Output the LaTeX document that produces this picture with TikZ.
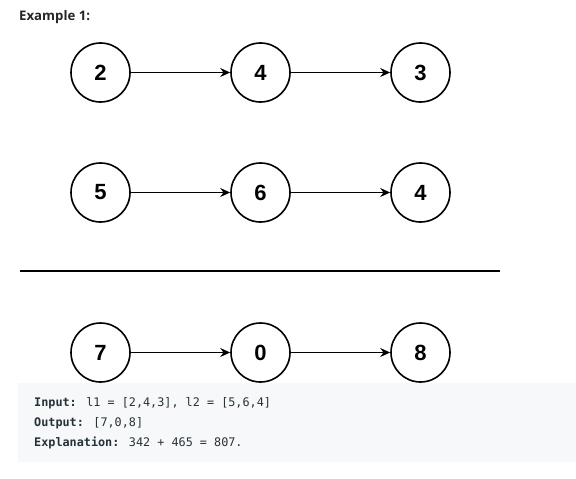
\documentclass[tikz,border=0pt]{standalone}
\usepackage{fontspec}
\setmainfont{Liberation Sans}
\newfontfamily\headfont{Open Sans}
\newfontfamily\codefont{DejaVu Sans Mono}
\usetikzlibrary{arrows.meta}
\definecolor{boxbg}{RGB}{246,248,250}
\definecolor{codetext}{RGB}{38,50,56}
\definecolor{headtext}{RGB}{38,38,38}
\tikzset{
  lnode/.style={circle, draw=black, line width=1.6pt, minimum size=59pt, inner sep=0pt, font=\fontsize{22}{22}\selectfont\bfseries},
  link/.style={line width=1.3pt, -{Stealth[length=10pt,width=9pt]}},
  codeline/.style={anchor=west, inner sep=0pt, text=codetext, font=\codefont\fontsize{11.8}{14}\selectfont}
}
\begin{document}
\begin{tikzpicture}[x=1pt,y=1pt]
\useasboundingbox (0,0) rectangle (576,-479);
\node[anchor=west, inner sep=0pt, text=headtext, font=\headfont\fontsize{13.2}{15}\selectfont\bfseries] (title) at (19,-17.5) {Example 1:};
% row 1
\node[lnode] (a1) at (100.5,-72.5) {2};
\node[lnode] (a2) at (260.5,-72.5) {4};
\node[lnode] (a3) at (420.5,-72.5) {3};
\draw[link] (a1) -- (a2);
\draw[link] (a2) -- (a3);
% row 2
\node[lnode] (b1) at (100.5,-192.5) {5};
\node[lnode] (b2) at (260.5,-192.5) {6};
\node[lnode] (b3) at (420.5,-192.5) {4};
\draw[link] (b1) -- (b2);
\draw[link] (b2) -- (b3);
% separator
\coordinate (s1) at (20,-271);
\coordinate (s2) at (500,-271);
\draw[line width=1.3pt] (s1) -- (s2);
% row 3
\node[lnode] (c1) at (100.5,-352.5) {7};
\node[lnode] (c2) at (260.5,-352.5) {0};
\node[lnode] (c3) at (420.5,-352.5) {8};
\draw[link] (c1) -- (c2);
\draw[link] (c2) -- (c3);
% code box
\fill[boxbg] (18,-383) rectangle (576,-462);
\node[codeline] (l1) at (34,-403) {\textbf{Input:} l1 = [2,4,3], l2 = [5,6,4]};
\node[codeline] (l2) at (34,-423) {\textbf{Output:} [7,0,8]};
\node[codeline] (l3) at (34,-443) {\textbf{Explanation:} 342 + 465 = 807.};
\end{tikzpicture}
\end{document}
